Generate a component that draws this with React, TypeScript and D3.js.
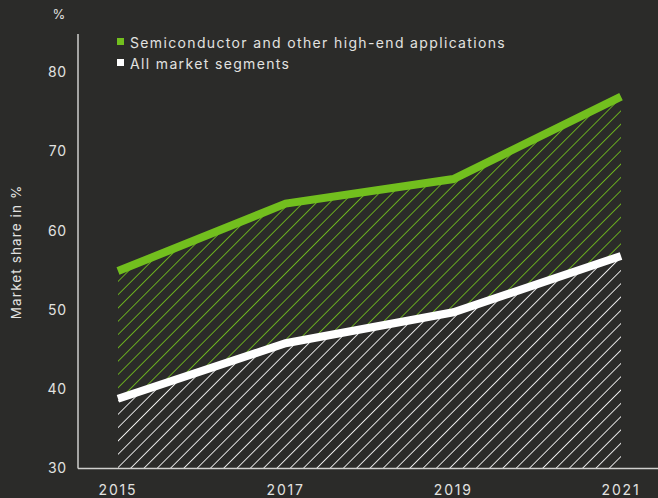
import React from "react";
import * as d3 from "d3";

const years = [2015, 2017, 2019, 2021];
const semiconductor = [54.9, 63.4, 66.5, 76.9];
const allSegments = [38.8, 45.8, 49.7, 56.8];
const yTicks = [30, 40, 50, 60, 70, 80];

const W = 658;
const H = 498;
const BG = "#2b2b29";
const GREEN = "#72bf1e";
const TEXT = "#e2e2e0";

export default function App() {
  const x = d3.scaleLinear().domain([2015, 2021]).range([118, 621]);
  const y = d3.scaleLinear().domain([30, 80]).range([468.5, 72]);

  const semiPts = years.map((yr, i) => [x(yr), y(semiconductor[i])] as [number, number]);
  const allPts = years.map((yr, i) => [x(yr), y(allSegments[i])] as [number, number]);

  const line = d3.line<[number, number]>();
  const whiteArea = d3
    .area<number>()
    .x((_, i) => x(years[i]))
    .y0(() => y(30))
    .y1((d) => y(d))(allSegments);
  const greenArea = d3
    .area<number>()
    .x((_, i) => x(years[i]))
    .y0((_, i) => y(allSegments[i]))
    .y1((d) => y(d))(semiconductor);

  const font = "Inter, Roboto, sans-serif";

  return (
    <svg
      width={W}
      height={H}
      style={{ position: "fixed", left: 0, top: 0, background: BG }}
      fontFamily={font}
    >
      <defs>
        <pattern id="hatchW" patternUnits="userSpaceOnUse" width={9.4} height={9.4} patternTransform="rotate(45)">
          <line x1={0} y1={0} x2={0} y2={9.4} stroke="#ffffff" strokeWidth={1.7} />
        </pattern>
        <pattern id="hatchG" patternUnits="userSpaceOnUse" width={9.4} height={9.4} patternTransform="rotate(45)">
          <line x1={0} y1={0} x2={0} y2={9.4} stroke={GREEN} strokeWidth={1.7} />
        </pattern>
      </defs>
      <rect x={0} y={0} width={W} height={H} fill={BG} />

      <path d={whiteArea || ""} fill="url(#hatchW)" />
      <path d={greenArea || ""} fill="url(#hatchG)" />

      <path d={line(semiPts) || ""} fill="none" stroke={GREEN} strokeWidth={8} />
      <path d={line(allPts) || ""} fill="none" stroke="#ffffff" strokeWidth={8} />

      {/* axes */}
      <line x1={78} y1={34} x2={78} y2={468.5} stroke="#cfcfcd" strokeWidth={1.5} />
      <line x1={78} y1={468.5} x2={W} y2={468.5} stroke="#cfcfcd" strokeWidth={1.5} />

      {yTicks.map((t) => (
        <text key={t} x={67} y={y(t)} dy="0.35em" textAnchor="end" fill={TEXT} fontSize={14} letterSpacing={0.8}>
          {t}
        </text>
      ))}
      {years.map((yr) => (
        <text key={yr} x={x(yr)} y={495} textAnchor="middle" fill={TEXT} fontSize={14} letterSpacing={1.8}>
          {yr}
        </text>
      ))}
      <text x={59} y={19} textAnchor="middle" fill={TEXT} fontSize={13}>
        %
      </text>
      <text
        transform="translate(21,252) rotate(-90)"
        textAnchor="middle"
        fill={TEXT}
        fontSize={13.5}
        letterSpacing={1.1}
      >
        Market share in %
      </text>

      {/* legend */}
      <rect x={117} y={38} width={7} height={7} fill={GREEN} />
      <text x={130} y={47.5} fill={TEXT} fontSize={14} letterSpacing={1.35}>
        Semiconductor and other high-end applications
      </text>
      <rect x={117} y={59} width={7} height={7} fill="#ffffff" />
      <text x={130} y={68.5} fill={TEXT} fontSize={14} letterSpacing={1.35}>
        All market segments
      </text>
    </svg>
  );
}
